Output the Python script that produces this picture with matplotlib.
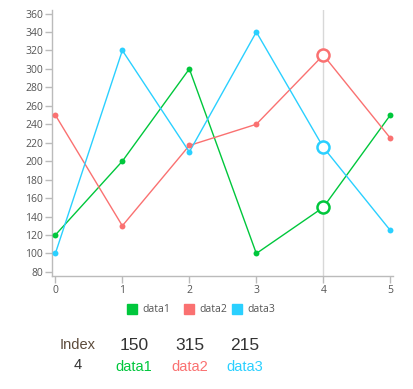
import matplotlib
matplotlib.use("Agg")
import matplotlib.pyplot as plt

x = [0, 1, 2, 3, 4, 5]
data1 = [120, 200, 300, 100, 150, 250]
data2 = [250, 130, 217, 240, 315, 225]
data3 = [100, 320, 210, 340, 215, 125]
names = ["data1", "data2", "data3"]
colors = ["#00c73c", "#fa7171", "#2ad0ff"]
yticks = list(range(80, 361, 20))
hover_index = 4

W, H = 413, 389
fig = plt.figure(figsize=(W / 100, H / 100), dpi=100)
ax = fig.add_axes([52 / W, 1 - 276 / H, (393 - 52) / W, (276 - 10) / H])

series = [data1, data2, data3]
ax.axvline(hover_index, color="#d8d8d8", lw=1, zorder=1)
for s, c in zip(series, colors):
    ax.plot(x, s, color=c, lw=1, zorder=2)
    pts = [(xi, yi) for xi, yi in zip(x, s) if xi != hover_index]
    ax.scatter([p[0] for p in pts], [p[1] for p in pts], s=18, color=c, zorder=3, linewidths=0)
    ax.scatter([hover_index], [s[hover_index]], s=75, facecolor="white", edgecolor=c, linewidths=1.8, zorder=4)

ax.set_xlim(-0.05, 5.04)
ax.set_ylim(75.6, 363.8)
ax.set_xticks(x)
ax.set_yticks(yticks)
for sp in ["top", "right"]:
    ax.spines[sp].set_visible(False)
for sp in ["left", "bottom"]:
    ax.spines[sp].set_color("#bbbbbb")
    ax.spines[sp].set_linewidth(1)
ax.tick_params(axis="both", colors="#bbbbbb", length=5, width=1, labelcolor="#555555", labelsize=7.5, pad=1.5)
for lab in ax.get_xticklabels() + ax.get_yticklabels():
    lab.set_family("Open Sans")

# legend
leg_x = [127, 184, 232]
for lx, n, c in zip(leg_x, names, colors):
    fig.patches.append(plt.Rectangle((lx / W, 1 - 314 / H), 10 / W, 10 / H, transform=fig.transFigure, color=c))
    fig.text((lx + 15) / W, 1 - 309 / H, n, fontsize=7.5, color="#555555", va="center", ha="left", family="Open Sans")

# table
tf = "Liberation Sans"
fig.text(78 / W, 1 - 345 / H, "Index", fontsize=10.5, color="#5c4a3a", ha="center", va="center", family=tf)
fig.text(78 / W, 1 - 365 / H, str(hover_index), fontsize=10.5, color="#333333", ha="center", va="center", family=tf)
col_x = [134, 190, 245]
for cx, n, s, c in zip(col_x, names, series, colors):
    fig.text(cx / W, 1 - 345 / H, str(s[hover_index]), fontsize=12.5, color="#333333", ha="center", va="center", family=tf)
    fig.text(cx / W, 1 - 367 / H, n, fontsize=10.5, color=c, ha="center", va="center", family=tf)

fig.savefig("out.png", dpi=100)
